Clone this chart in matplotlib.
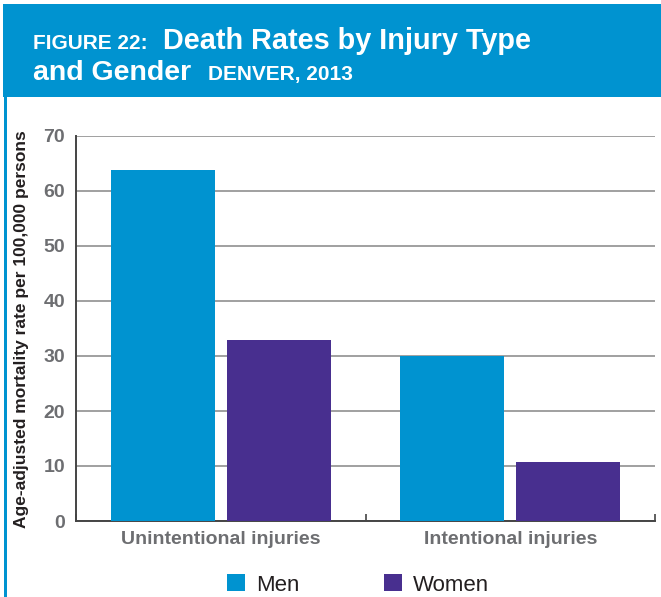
import matplotlib.pyplot as plt
from matplotlib.patches import Rectangle, Patch

# data
categories = ["Unintentional injuries", "Intentional injuries"]
men = [63.8, 30.0]
women = [33.0, 10.7]
yticks = [0, 10, 20, 30, 40, 50, 60, 70]

BLUE = "#0093D0"
PURPLE = "#482F8F"
GRAY = "#6D6E71"

W, H = 661, 597
fig = plt.figure(figsize=(W / 100, H / 100), dpi=100)
fig.patch.set_facecolor("white")

# header band + left border line
fig.patches.append(Rectangle((3 / W, 1 - 97 / H), 1, 93 / H, transform=fig.transFigure,
                             facecolor=BLUE, edgecolor="none", zorder=0))
fig.patches.append(Rectangle((4 / W, 0), 3 / W, 1 - 4 / H, transform=fig.transFigure,
                             facecolor=BLUE, edgecolor="none", zorder=0))

tfont = ["Liberation Sans", "DejaVu Sans"]
fig.text(33 / W, 1 - 49 / H, "FIGURE 22:", color="white", fontsize=15, fontweight="bold",
         family=tfont, va="baseline")
fig.text(163 / W, 1 - 49 / H, "Death Rates by Injury Type", color="white", fontsize=20.8,
         fontweight="bold", family=tfont, va="baseline")
fig.text(33 / W, 1 - 80 / H, "and Gender", color="white", fontsize=20.5, fontweight="bold",
         family=tfont, va="baseline")
fig.text(208 / W, 1 - 80 / H, "DENVER, 2013", color="white", fontsize=15, fontweight="bold",
         family=tfont, va="baseline")

ax = fig.add_axes([76 / W, 1 - 521 / H, (655 - 76) / W, (521 - 136) / H])
x = [0, 1]
w = 0.36
ax.bar([i - 0.2 for i in x], men, width=w, color=BLUE, zorder=3, label="Men")
ax.bar([i + 0.2 for i in x], women, width=w, color=PURPLE, zorder=3, label="Women")

ax.set_xlim(-0.5, 1.5)
ax.set_ylim(0, 70)
ax.set_yticks(yticks)
ax.set_xticks(x)
ax.set_xticklabels(categories)
ax.set_xticks([-0.5, 0.5, 1.5], minor=True)
ax.grid(axis="y", color="#A0A0A0", linewidth=1.4, zorder=0)
ax.set_axisbelow(True)

for s in ["top", "right"]:
    ax.spines[s].set_visible(False)
for s in ["left", "bottom"]:
    ax.spines[s].set_color("#444444")
    ax.spines[s].set_linewidth(1.4)

ax.tick_params(axis="y", length=0, pad=8, labelsize=14, labelcolor=GRAY)
ax.tick_params(axis="x", which="major", length=0, pad=7, labelsize=14, labelcolor=GRAY)
ax.tick_params(axis="x", which="minor", direction="in", length=5, width=1.2, color="#444444")
for lab in ax.get_xticklabels() + ax.get_yticklabels():
    lab.set_fontweight("bold")
    lab.set_family(["Liberation Sans", "DejaVu Sans"])

fig.text(22 / W, 1 - 329 / H, "Age-adjusted mortality rate per 100,000 persons", rotation=90,
         fontsize=12.5, fontweight="bold", color="#231F20", family=["Liberation Sans", "DejaVu Sans"],
         ha="center", va="center")

handles = [Patch(facecolor=BLUE), Patch(facecolor=PURPLE)]
fig.legend(handles, ["Men", "Women"], loc="center", bbox_to_anchor=(358 / W, 1 - 585 / H),
           ncol=2, frameon=False, handlelength=0.8, handleheight=0.8, handletextpad=0.5,
           columnspacing=3.8, prop={"family": ["Liberation Sans", "DejaVu Sans"], "size": 16},
           labelcolor="#231F20")

fig.savefig("out.png", dpi=100)
